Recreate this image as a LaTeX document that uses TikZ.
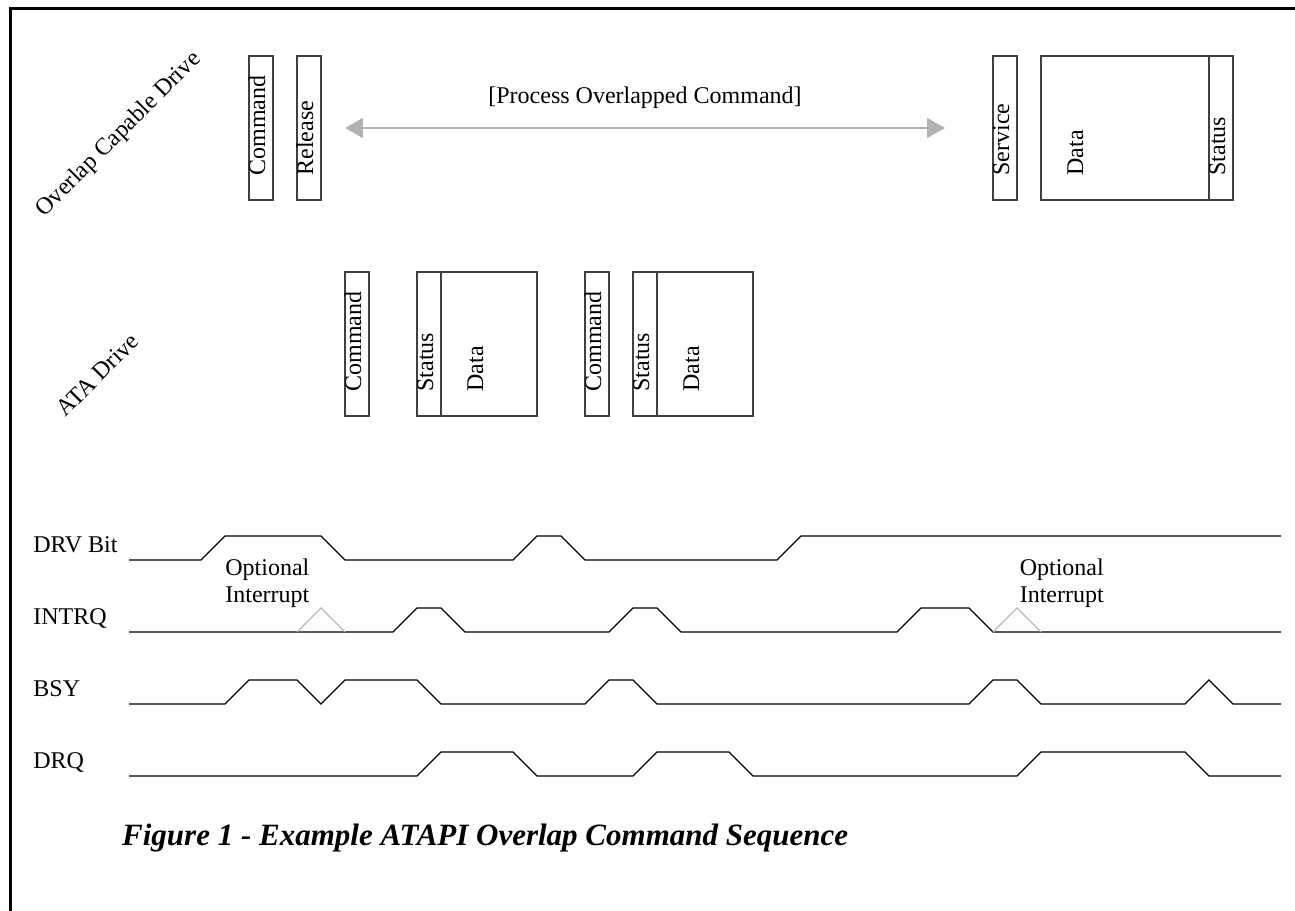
\documentclass[tikz,border=0pt]{standalone}
\usepackage{fontspec}
\setmainfont{Liberation Serif}
\usetikzlibrary{arrows.meta}
\tikzset{
  blk/.style={draw=black!75,line width=0.6pt},
  lbl/.style={rotate=90,anchor=base west,inner sep=0pt},
  sig/.style={line width=0.6pt},
  opt/.style={draw=black!28,line width=0.6pt},
  hint/.style={align=left,anchor=south west,inner sep=0pt},
  parrow/.style={{Triangle[length=9pt,width=10pt]}-{Triangle[length=9pt,width=10pt]},draw=black!30,fill=black!30,line width=0.6pt}
}
\begin{document}
\begin{tikzpicture}[x=12pt,y=-12pt,font=\fontsize{12}{13.5}\selectfont]
  \useasboundingbox (-0.375,-0.333) rectangle (53.583,37.625);
  \draw[line width=1.5pt] (0.042,37.625) -- (0.042,0.042) -- (53.583,0.042);
  \draw
    (4.58,5.29) node[rotate=45] (ocd) {Overlap Capable Drive}
    (3.69,15.29) node[rotate=45] (ata) {ATA Drive};
  \draw[blk]
    (10,2) rectangle (11,8)
    (12,2) rectangle (13,8)
    (41,2) rectangle (42,8)
    (43,2) rectangle (51,8)
    (50,2) -- (50,8)
    (14,11) rectangle (15,17)
    (17,11) rectangle (22,17)
    (18,11) -- (18,17)
    (24,11) rectangle (25,17)
    (26,11) rectangle (31,17)
    (27,11) -- (27,17);
  \draw
    (10.667,7) node[lbl] (cmd1) {Command}
    (12.667,7) node[lbl] (rel) {Release}
    (41.667,7) node[lbl] (svc) {Service}
    (44.75,7) node[lbl] (dat1) {Data}
    (50.667,7) node[lbl] (sts1) {Status}
    (14.667,16) node[lbl] (cmd2) {Command}
    (17.667,16) node[lbl] (sts2) {Status}
    (19.75,16) node[lbl] (dat2) {Data}
    (24.667,16) node[lbl] (cmd3) {Command}
    (26.667,16) node[lbl] (sts3) {Status}
    (28.75,16) node[lbl] (dat3) {Data};
  \coordinate (pa) at (14,5);
  \coordinate (pb) at (39,5);
  \draw[parrow] (pa) -- (pb);
  \node[anchor=base] (proc) at (26.5,4) {[Process Overlapped Command]};
  \draw
    (1,22.7) node[anchor=base west,inner sep=0pt] (drv) {DRV Bit}
    (1,25.7) node[anchor=base west,inner sep=0pt] (intrq) {INTRQ}
    (1,28.7) node[anchor=base west,inner sep=0pt] (bsy) {BSY}
    (1,31.7) node[anchor=base west,inner sep=0pt] (drq) {DRQ};
  \draw[sig] (5,23) -- (8,23) -- (9,22) -- (13,22) -- (14,23) -- (21,23) -- (22,22) -- (23,22)
    -- (24,23) -- (32,23) -- (33,22) -- (53,22);
  \draw[sig] (5,26) -- (16,26) -- (17,25) -- (18,25) -- (19,26) -- (25,26) -- (26,25) -- (27,25)
    -- (28,26) -- (37,26) -- (38,25) -- (40,25) -- (41,26) -- (53,26);
  \draw[opt] (12,26) -- (13,25) -- (14,26);
  \draw[opt] (41,26) -- (42,25) -- (43,26);
  \draw[sig] (5,29) -- (9,29) -- (10,28) -- (12,28) -- (13,29) -- (14,28) -- (17,28) -- (18,29)
    -- (24,29) -- (25,28) -- (26,28) -- (27,29) -- (40,29) -- (41,28) -- (42,28) -- (43,29)
    -- (49,29) -- (50,28) -- (51,29) -- (53,29);
  \draw[sig] (5,32) -- (17,32) -- (18,31) -- (21,31) -- (22,32) -- (26,32) -- (27,31) -- (30,31)
    -- (31,32) -- (42,32) -- (43,31) -- (49,31) -- (50,32) -- (53,32);
  \node[hint] (opt1) at (9,25) {Optional\\Interrupt};
  \node[hint] (opt2) at (42.1,25) {Optional\\Interrupt};
  \node[anchor=base west,inner sep=0pt,font=\fontsize{15.5}{18}\selectfont\bfseries\itshape] (cap) at (4.7,34.9)
    {Figure 1 - Example ATAPI Overlap Command Sequence};
\end{tikzpicture}
\end{document}
